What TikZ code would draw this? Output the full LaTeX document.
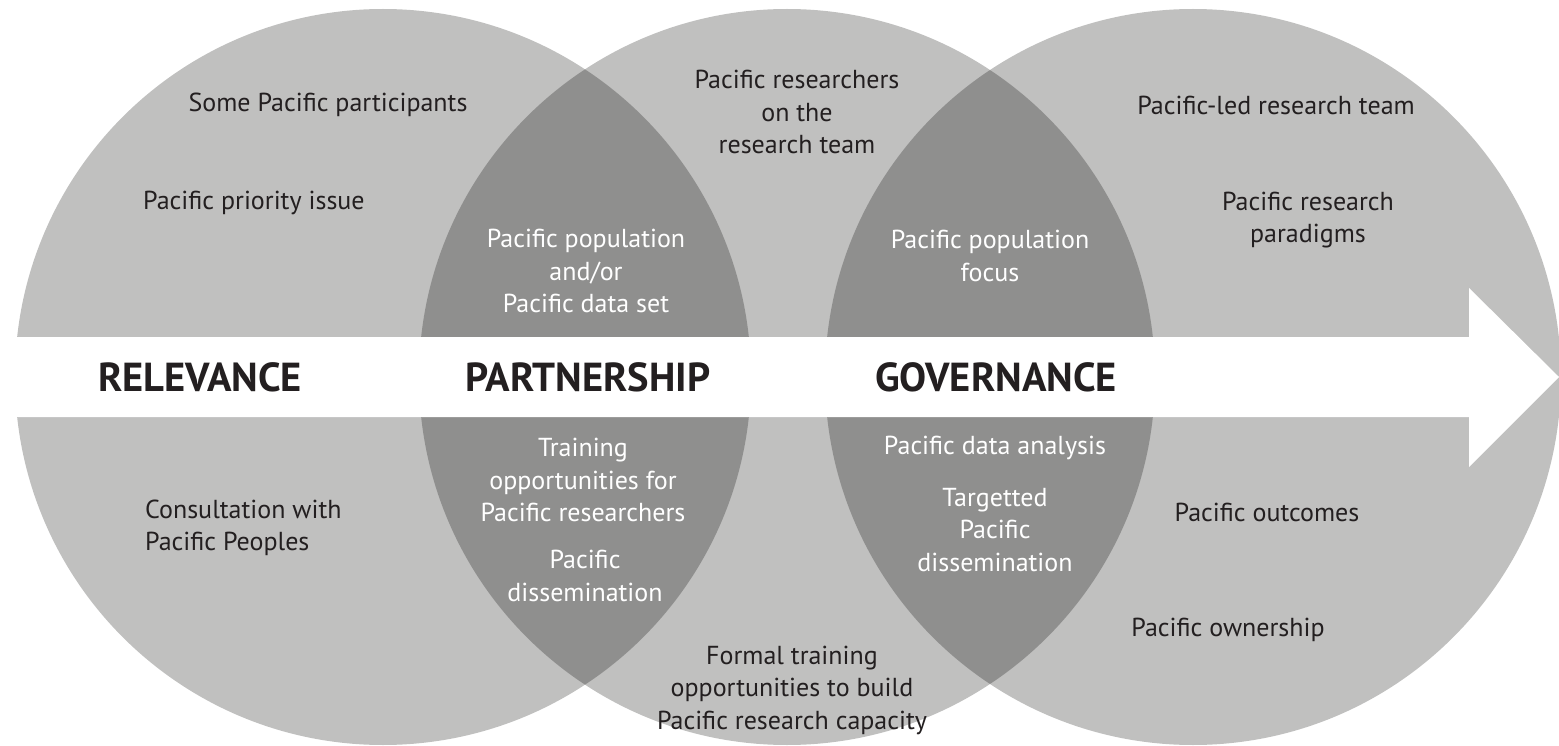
\documentclass[tikz,border=0pt]{standalone}
\usepackage{fontspec}
\setmainfont{PT Sans}
\usetikzlibrary{positioning}

\definecolor{ringgrey}{HTML}{C0C0BF}
\definecolor{lensgrey}{HTML}{8F8F8E}
\definecolor{inktext}{HTML}{231F20}

\tikzset{
  circletext/.style={font=\fontsize{26}{32.5}\selectfont, text=inktext, align=center, inner sep=0pt},
  lenstext/.style={circletext, text=white},
  pillar/.style={font=\fontsize{40.5}{46}\selectfont\bfseries, text=inktext, inner sep=0pt}
}

\begin{document}
\begin{tikzpicture}[x=1pt, y=-1pt]
    \useasboundingbox (0,0) rectangle (1559,746);
    % three circles
    \coordinate (rel) at (383,377);
    \coordinate (par) at (787,377);
    \coordinate (gov) at (1193,377);
    \fill[ringgrey] (rel) circle (368) (par) circle (368) (gov) circle (368);
    % overlaps
    \begin{scope}
      \clip (rel) circle (368);
      \fill[lensgrey] (par) circle (368);
    \end{scope}
    \begin{scope}
      \clip (par) circle (368);
      \fill[lensgrey] (gov) circle (368);
    \end{scope}
    % white arrow band
    \fill[white] (14,337) -- (1469,337) -- (1469,288) -- (1559,377)
      -- (1469,467) -- (1469,417) -- (14,417) -- cycle;

    \node[pillar] (relevance) at (200,377) {RELEVANCE};
    \node[pillar] (partnership) at (588,377) {PARTNERSHIP};
    \node[pillar] (governance) at (996,377) {GOVERNANCE};

    \node[circletext] (participants) at (328,105) {Some Pacific participants};
    \node[circletext, anchor=west] (priority) at (143,203) {Pacific priority issue};
    \node[circletext] (onteam) at (797,112) {Pacific researchers\\on the\\research team};
    \node[circletext] (ledteam) at (1276,105) {Pacific-led research team};
    \node[circletext] (paradigms) at (1308,220) {Pacific research\\paradigms};
    \node[lenstext] (dataset) at (586,271) {Pacific population\\and/or\\Pacific data set};
    \node[lenstext] (focus) at (990,256) {Pacific population\\focus};

    \node[circletext, align=left, anchor=west] (consult) at (145,528) {Consultation with\\Pacific Peoples};
    \node[lenstext] (training) at (583,480) {Training\\opportunities for\\Pacific researchers};
    \node[lenstext] (dissem) at (585,576) {Pacific\\dissemination};
    \node[circletext] (capacity) at (792,690) {Formal training\\opportunities to build\\Pacific research capacity};
    \node[lenstext] (analysis) at (995,448) {Pacific data analysis};
    \node[lenstext] (targetted) at (995,530) {Targetted\\Pacific\\dissemination};
    \node[circletext] (outcomes) at (1267,512) {Pacific outcomes};
    \node[circletext] (ownership) at (1228,630) {Pacific ownership};
  \end{tikzpicture}
\end{document}
